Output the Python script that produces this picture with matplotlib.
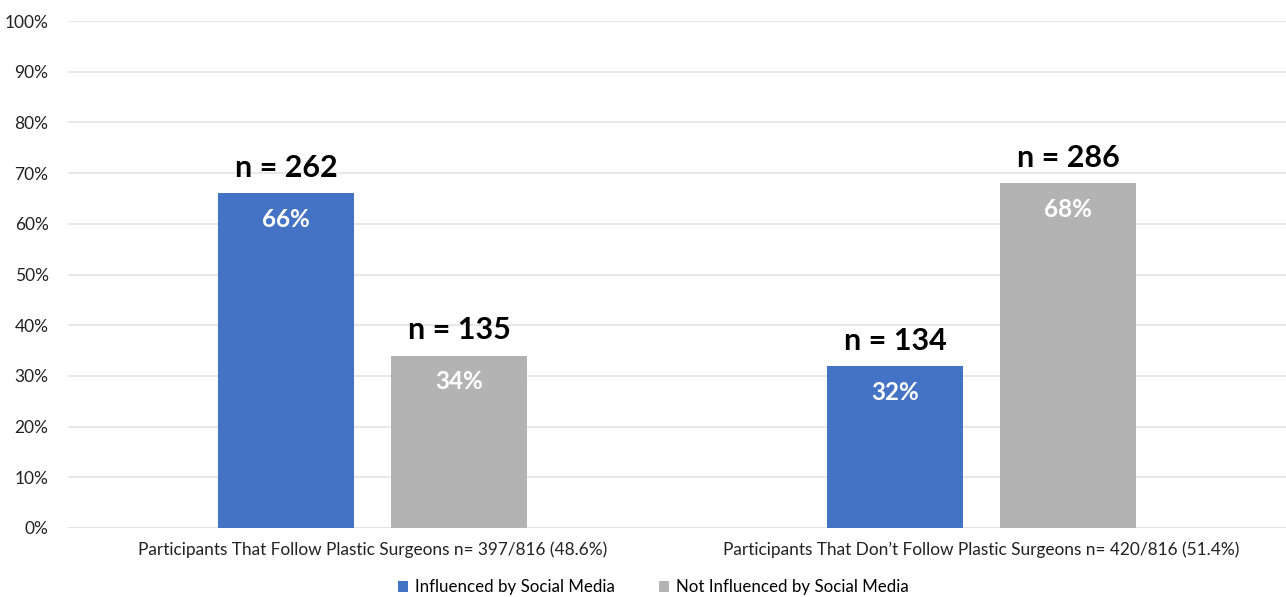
import numpy as np
import matplotlib.pyplot as plt
from matplotlib.ticker import PercentFormatter

plt.rcParams['font.family'] = ['Lato', 'DejaVu Sans']

groups = ['Participants That Follow Plastic Surgeons n= 397/816 (48.6%)',
          'Participants That Don\u2019t Follow Plastic Surgeons n= 420/816 (51.4%)']
series = ['Influenced by Social Media', 'Not Influenced by Social Media']
pct_influenced = [66, 32]
pct_not_influenced = [34, 68]
n_influenced = [262, 134]
n_not_influenced = [135, 286]
colors = ['#4472C4', '#B3B3B3']

fig = plt.figure(figsize=(12.86, 5.97), dpi=100)
ax = fig.add_axes([68 / 1286, 69 / 597, 1218 / 1286, 507 / 597])

x = np.arange(len(groups))
width = 0.223
offset = 0.142

for vals, ns, sign, col, lab in [(pct_influenced, n_influenced, -1, colors[0], series[0]),
                                  (pct_not_influenced, n_not_influenced, 1, colors[1], series[1])]:
    bars = ax.bar(x + sign * offset, vals, width, color=col, label=lab, zorder=2)
    for b, v, n in zip(bars, vals, ns):
        cx = b.get_x() + b.get_width() / 2
        ax.text(cx, v + 2.2, f'n = {n}', ha='center', va='bottom',
                fontsize=22, fontweight='bold', color='black')
        ax.text(cx, v - 5.2, f'{v}%', ha='center', va='center',
                fontsize=17.5, fontweight='bold', color='white')

ax.set_xlim(-0.5, 1.5)
ax.set_ylim(0, 100)
ax.set_yticks(np.arange(0, 101, 10))
ax.yaxis.set_major_formatter(PercentFormatter(decimals=0))
ax.set_xticks(x)
ax.set_xticklabels(groups, fontsize=12.4)
ax.tick_params(axis='both', length=0, colors='#222222')
ax.tick_params(axis='y', pad=14, labelsize=12.5)
ax.tick_params(axis='x', pad=10)
ax.grid(axis='y', color='#E4E4E4', linewidth=1.2, zorder=0)
for s in ax.spines.values():
    s.set_visible(False)
ax.axhline(0, color='#D9D9D9', linewidth=1.2, zorder=1)

# legend sits a little left of the axes centre, under the category labels
ax.legend(loc='upper center', bbox_to_anchor=(0.5 - 24 / 1218, -0.078), ncol=2,
          frameon=False, fontsize=12.2, handlelength=0.6, handleheight=0.6,
          handletextpad=0.4, columnspacing=2.6, borderpad=0.2)

fig.savefig('out.png', dpi=100)
